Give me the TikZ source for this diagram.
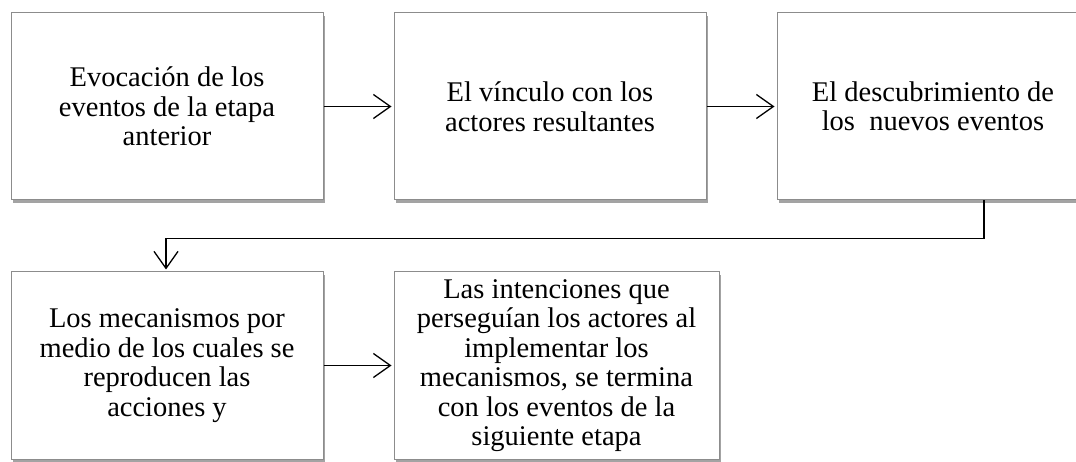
\documentclass[tikz,border=0pt]{standalone}
\usepackage{fontspec}
\setmainfont{Liberation Serif}
\usetikzlibrary{arrows.meta,shadows}
\tikzset{
  box/.style={draw=black!45, line width=1pt, fill=white, align=center,
    minimum width=312pt, minimum height=187pt, inner sep=2pt,
    font=\fontsize{28.5}{29.5}\selectfont,
    drop shadow={shadow xshift=2pt, shadow yshift=-3pt, opacity=0.6, fill=black!60}},
  conn/.style={line width=1.3pt, -{Straight Barb[length=17pt,width=24pt,line width=1.3pt]}, shorten >=2pt}
}
\begin{document}
\begin{tikzpicture}[x=1pt,y=-1pt]
\useasboundingbox (0,0) rectangle (1076,462);
\fill[white] (0,0) rectangle (1076,462);
\node[box] (b1) at (167,106.5) {Evocación de los\\eventos de la etapa\\anterior};
\node[box] (b2) at (550,106.5) {El vínculo con los\\actores resultantes};
\node[box] (b3) at (933,106.5) {El descubrimiento de\\los\ \ nuevos eventos};
\node[box] (b4) at (167,365.5) {Los mecanismos por\\medio de los cuales se\\reproducen las\\acciones y};
\node[box, minimum width=325pt, inner sep=0pt] (b5) at (556.5,365.5) {Las intenciones que\\perseguían los actores al\\implementar los\\mecanismos, se termina\\con los eventos de la\\siguiente etapa};
\draw[conn] (b1.east) -- (b2.west);
\draw[conn] (b2.east) -- (b3.west);
\draw[conn] (b4.east) -- (b4.east -| b5.west);
\coordinate (c1) at ([xshift=51pt]b3.south);
\draw[conn] (c1) -- ++(0,38) -| ([xshift=-1pt]b4.north);
\end{tikzpicture}
\end{document}
